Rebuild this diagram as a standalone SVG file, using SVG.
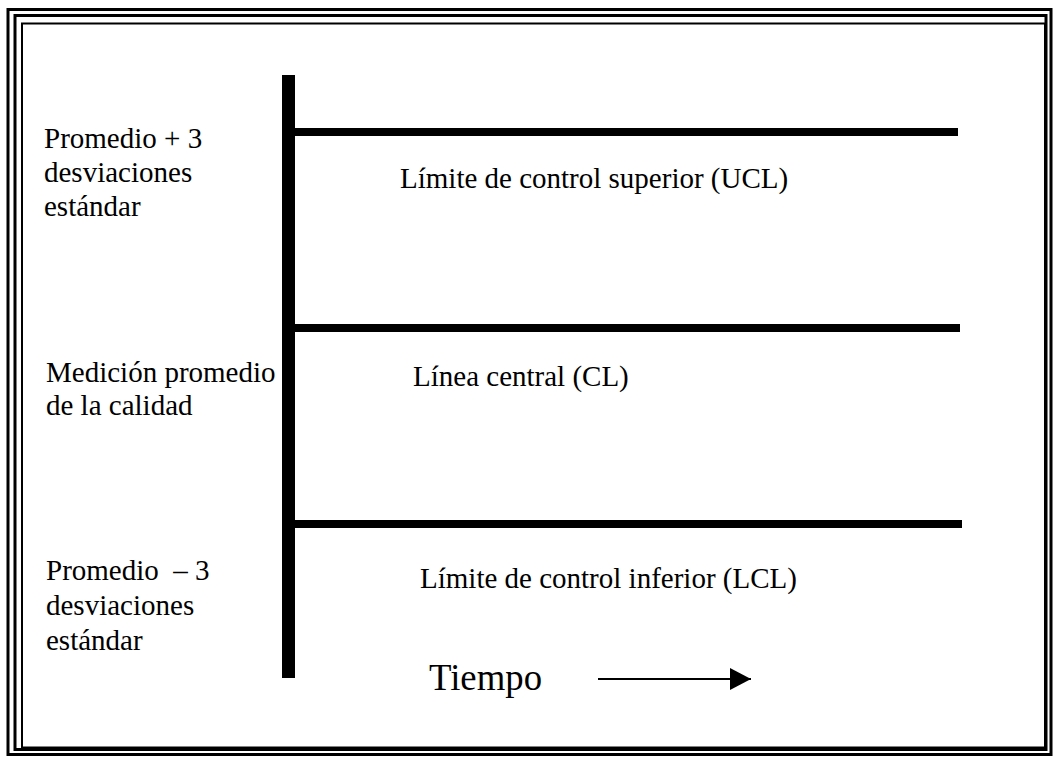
<svg xmlns="http://www.w3.org/2000/svg" width="1053" height="757" viewBox="0 0 1053 757">
<style>
  text { font-family: "Liberation Serif", "Times New Roman", serif; fill: #000; }
  .lbl { font-size: 29px; }
  .big { font-size: 38px; }
  .frame { fill: none; stroke: #000; }
  .limit { stroke: #000; stroke-width: 8; fill: none; }
</style>
<defs>
  <marker id="arrow" markerWidth="22" markerHeight="22" refX="21" refY="11" orient="auto" markerUnits="userSpaceOnUse">
    <path d="M0,0 L21,11 L0,22 Z" fill="#000"/>
  </marker>
</defs>
<rect width="1053" height="757" fill="#fff"/>
<g id="frame">
  <rect class="frame" x="8" y="9.5" width="1043" height="745" stroke-width="3"/>
  <rect class="frame" x="15" y="15.5" width="1031" height="734" stroke-width="3"/>
  <rect class="frame" x="22" y="23.5" width="1023" height="724" stroke-width="2"/>
</g>
<g id="connectors">
  <rect id="axis" x="282" y="75" width="13" height="603" fill="#000"/>
  <line class="limit" x1="295" y1="132" x2="958" y2="132"/>
  <line class="limit" x1="295" y1="328" x2="960" y2="328"/>
  <line class="limit" x1="295" y1="524" x2="962" y2="524"/>
  <line x1="598" y1="679" x2="751" y2="679" stroke="#000" stroke-width="2" marker-end="url(#arrow)"/>
</g>
<g id="label-ucl-left">
  <text class="lbl" x="44" y="148">Promedio + 3</text>
  <text class="lbl" x="44" y="182">desviaciones</text>
  <text class="lbl" x="44" y="216">estándar</text>
</g>
<g id="label-cl-left">
  <text class="lbl" x="46" y="382">Medición promedio</text>
  <text class="lbl" x="46" y="415">de la calidad</text>
</g>
<g id="label-lcl-left">
  <text class="lbl" x="46" y="580" xml:space="preserve">Promedio  – 3</text>
  <text class="lbl" x="46" y="615">desviaciones</text>
  <text class="lbl" x="46" y="650">estándar</text>
</g>
<g id="label-ucl">
  <text class="lbl" x="400" y="188">Límite de control superior (UCL)</text>
</g>
<g id="label-cl">
  <text class="lbl" x="413" y="386">Línea central (CL)</text>
</g>
<g id="label-lcl">
  <text class="lbl" x="420" y="588">Límite de control inferior (LCL)</text>
</g>
<g id="label-tiempo">
  <text class="big" x="429" y="690" textLength="113" lengthAdjust="spacingAndGlyphs">Tiempo</text>
</g>
</svg>
